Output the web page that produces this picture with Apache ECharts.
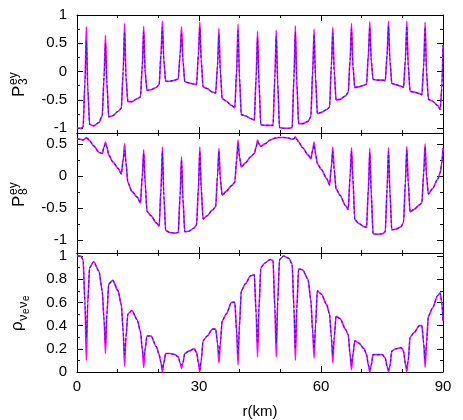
<!DOCTYPE html>
<html>
<head>
<meta charset="utf-8">
<script src="https://cdn.jsdelivr.net/npm/echarts@6/dist/echarts.min.js"></script>
<style>
html,body{margin:0;padding:0;background:#fff;}
#c{width:463px;height:420px;}
</style>
</head>
<body>
<div id="c"></div>
<script>
// r (km) sample positions shared by the three panels
const rKm = [0, 0.9,
 1.5, 1.95, 2.3, 2.65, 3.1, 4.1, 5.4,
 6.2, 6.65, 7.0, 7.35, 7.8, 8.8, 10.1,
 10.9, 11.35, 11.7, 12.05, 12.5, 13.5, 14.8,
 15.6, 16.05, 16.4, 16.75, 17.2, 18.2, 19.5,
 20.2, 20.65, 21.0, 21.35, 21.8, 22.8, 24.1,
 24.9, 25.35, 25.7, 26.05, 26.5, 27.5, 28.8,
 29.4, 29.85, 30.2, 30.55, 31.0, 32.0, 33.3,
 34.1, 34.55, 34.9, 35.25, 35.7, 36.7, 38.0,
 38.8, 39.25, 39.6, 39.95, 40.4, 41.4, 42.7,
 43.6, 44.05, 44.4, 44.75, 45.2, 46.2, 47.5,
 48.2, 48.65, 49.0, 49.35, 49.8, 50.8, 52.1,
 52.9, 53.35, 53.7, 54.05, 54.5, 55.5, 56.8,
 57.5, 57.95, 58.3, 58.65, 59.1, 60.1, 61.4,
 62.1, 62.55, 62.9, 63.25, 63.7, 64.7, 66.0,
 66.7, 67.15, 67.5, 67.85, 68.3, 69.3, 70.6,
 71.2, 71.65, 72.0, 72.35, 72.8, 73.8, 75.1,
 75.8, 76.25, 76.6, 76.95, 77.4, 78.4, 79.7,
 80.3, 80.75, 81.1, 81.45, 81.9, 82.9, 84.2,
 84.8, 85.25, 85.6, 85.95, 86.4, 87.4, 88.7,
 89.3, 89.7, 90.0];

// P3^ey (magenta solid)
const p3Magenta = [-1.0, -1.0,
 -0.98, -0.2, 0.79, -0.3, -0.93, -0.96, -0.9,
 -0.78, -0.1, 0.64, -0.2, -0.8, -0.78, -0.7,
 -0.65, 0.0, 0.85, -0.1, -0.53, -0.53, -0.48,
 -0.45, 0.1, 0.80, 0.0, -0.33, -0.32, -0.28,
 -0.23, 0.3, 0.89, 0.2, -0.17, -0.17, -0.15,
 -0.13, 0.3, 0.79, 0.2, -0.18, -0.2, -0.22,
 -0.23, 0.3, 0.88, 0.2, -0.27, -0.3, -0.36,
 -0.38, 0.1, 0.76, 0.0, -0.48, -0.52, -0.6,
 -0.64, 0.0, 0.84, -0.1, -0.76, -0.78, -0.83,
 -0.86, -0.1, 0.71, -0.2, -0.94, -0.95, -0.95,
 -0.95, -0.1, 0.73, -0.2, -0.99, -1.0, -1.0,
 -0.99, -0.1, 0.81, -0.2, -0.92, -0.92, -0.88,
 -0.8, 0.0, 0.75, -0.1, -0.74, -0.72, -0.67,
 -0.63, 0.1, 0.78, 0.0, -0.5, -0.49, -0.43,
 -0.37, 0.2, 0.85, 0.1, -0.28, -0.27, -0.24,
 -0.22, 0.3, 0.88, 0.2, -0.14, -0.15, -0.15,
 -0.16, 0.3, 0.89, 0.2, -0.21, -0.23, -0.26,
 -0.28, 0.2, 0.89, 0.1, -0.35, -0.36, -0.39,
 -0.41, 0.1, 0.87, 0.0, -0.49, -0.52, -0.6,
 -0.67, -0.3, 0.47];
// P3^ey (blue dashed) values at the 19 spike tops
const p3BluePeaks = [0.55, 0.5, 0.7, 0.7, 0.78, 0.68, 0.78, 0.65, 0.72, 0.6, 0.62, 0.7, 0.65, 0.68, 0.75, 0.78, 0.8, 0.8, 0.78];

// P8^ey (magenta solid)
const p8Magenta = [0.58, 0.57,
 0.56, 0.58, 0.6, 0.58, 0.55, 0.47, 0.37,
 0.35, 0.45, 0.53, 0.45, 0.33, 0.22, 0.12,
 0.03, 0.25, 0.5, 0.2, -0.1, -0.24, -0.33,
 -0.42, 0.0, 0.41, -0.1, -0.55, -0.62, -0.73,
 -0.78, -0.2, 0.45, -0.3, -0.85, -0.88, -0.89,
 -0.88, -0.3, 0.30, -0.35, -0.87, -0.86, -0.81,
 -0.76, -0.2, 0.45, -0.2, -0.67, -0.62, -0.53,
 -0.48, 0.0, 0.43, -0.05, -0.3, -0.24, -0.15,
 -0.1, 0.25, 0.56, 0.3, 0.14, 0.2, 0.3,
 0.35, 0.45, 0.56, 0.5, 0.46, 0.5, 0.56,
 0.58, 0.59, 0.59, 0.6, 0.6, 0.6, 0.59,
 0.57, 0.58, 0.61, 0.57, 0.53, 0.44, 0.33,
 0.27, 0.4, 0.53, 0.35, 0.19, 0.1, -0.04,
 -0.14, 0.15, 0.45, 0.1, -0.2, -0.3, -0.46,
 -0.52, 0.0, 0.44, -0.05, -0.68, -0.74, -0.79,
 -0.8, -0.2, 0.43, -0.25, -0.9, -0.91, -0.9,
 -0.87, -0.2, 0.44, -0.25, -0.84, -0.83, -0.79,
 -0.72, -0.1, 0.46, -0.1, -0.56, -0.52, -0.45,
 -0.42, 0.05, 0.5, 0.0, -0.28, -0.2, -0.05,
 0.05, 0.2, 0.43];
const p8BluePeaks = [0.59, 0.5, 0.4, 0.35, 0.38, 0.25, 0.38, 0.38, 0.5, 0.53, 0.59, 0.6, 0.48, 0.38, 0.38, 0.36, 0.38, 0.4, 0.45];

// rho_{nu_e nu_e} (magenta solid)
const rhoMagenta = [1.0, 1.0,
 0.97, 0.6, 0.1, 0.6, 0.9, 0.95, 0.87,
 0.7, 0.45, 0.16, 0.5, 0.76, 0.79, 0.7,
 0.58, 0.35, 0.05, 0.3, 0.5, 0.53, 0.45,
 0.35, 0.2, 0.04, 0.2, 0.31, 0.31, 0.22,
 0.15, 0.08, 0.0, 0.08, 0.16, 0.16, 0.15,
 0.13, 0.08, 0.03, 0.08, 0.16, 0.18, 0.2,
 0.17, 0.08, 0.0, 0.1, 0.27, 0.31, 0.37,
 0.37, 0.25, 0.08, 0.25, 0.44, 0.5, 0.6,
 0.6, 0.35, 0.06, 0.4, 0.7, 0.76, 0.83,
 0.84, 0.5, 0.13, 0.55, 0.9, 0.94, 0.97,
 0.96, 0.55, 0.13, 0.6, 0.97, 1.0, 0.98,
 0.93, 0.55, 0.1, 0.55, 0.89, 0.88, 0.8,
 0.62, 0.35, 0.12, 0.4, 0.7, 0.67, 0.58,
 0.5, 0.3, 0.08, 0.3, 0.48, 0.46, 0.37,
 0.32, 0.15, 0.02, 0.15, 0.27, 0.25, 0.2,
 0.15, 0.06, 0.0, 0.06, 0.15, 0.15, 0.15,
 0.12, 0.05, 0.0, 0.05, 0.18, 0.2, 0.21,
 0.18, 0.07, 0.0, 0.1, 0.3, 0.34, 0.4,
 0.4, 0.25, 0.04, 0.25, 0.48, 0.55, 0.66,
 0.68, 0.6, 0.44];
const rhoBlueDips = [0.3, 0.25, 0.15, 0.12, 0.03, 0.06, 0.02, 0.15, 0.15, 0.25, 0.25, 0.2, 0.2, 0.15, 0.06, 0.02, 0.02, 0.04, 0.1];

// tick labels
const xTicks = [0, 30, 60, 90];
const p3Ticks = [-1, -0.5, 0, 0.5, 1];
const p3Minor = [-0.75, -0.25, 0.25, 0.75];
const p8Ticks = [-1, -0.5, 0, 0.5];
const p8Minor = [-0.75, -0.25, 0.25];
const rhoTicks = [0, 0.2, 0.4, 0.6, 0.8, 1];
const rhoMinor = [0.1, 0.3, 0.5, 0.7, 0.9];

function pairs(vals) { return rKm.map((r, i) => [r, vals[i]]); }
function withPeaks(vals, peaks) {
  const out = vals.slice();
  peaks.forEach((p, k) => { out[4 + 7 * k] = p; });
  return out;
}

const FONT = 'Liberation Sans, Arial, sans-serif';
const grids = [
  {left: 77, right: 20, top: 15, height: 118},
  {left: 77, right: 20, top: 133, height: 120},
  {left: 77, right: 20, top: 253, height: 119}
];
const yRanges = [[-1.085, 1], [-1.2, 0.67], [0, 1.026]];
const yMajor = [p3Ticks, p8Ticks, rhoTicks];
const yMinor = [p3Minor, p8Minor, rhoMinor];

const axLine = {show: true, onZero: false, lineStyle: {color: '#000', width: 1}};
const xAxes = [], yAxes = [];
for (let g = 0; g < 3; g++) {
  ['bottom', 'top'].forEach(pos => {
    xAxes.push({
      type: 'value', gridIndex: g, position: pos, min: 0, max: 90, interval: 30,
      axisLine: axLine,
      axisTick: {show: true, inside: true, length: 6, lineStyle: {color: '#000'}},
      minorTick: {show: true, splitNumber: 3, length: 3, lineStyle: {color: '#000'}},
      splitLine: {show: false},
      axisLabel: {show: pos === 'bottom' && g === 2, margin: 7, color: '#000', fontSize: 15, fontFamily: FONT,
        customValues: xTicks, formatter: v => String(v)}
    });
  });
  ['left', 'right'].forEach(pos => {
    yAxes.push({
      type: 'value', gridIndex: g, position: pos, min: yRanges[g][0], max: yRanges[g][1],
      axisLine: axLine,
      axisTick: {show: true, inside: true, length: 6, customValues: yMajor[g], lineStyle: {color: '#000'}},
      splitLine: {show: false},
      axisLabel: {show: pos === 'left', margin: 10, color: '#000', fontSize: 15, fontFamily: FONT,
        customValues: yMajor[g], formatter: v => String(v)}
    });
    yAxes.push({
      type: 'value', gridIndex: g, position: pos, min: yRanges[g][0], max: yRanges[g][1],
      axisLine: {show: false, onZero: false},
      axisTick: {show: true, inside: true, length: 3, customValues: yMinor[g], lineStyle: {color: '#000'}},
      splitLine: {show: false},
      axisLabel: {show: false}
    });
  });
}

const magentaStyle = {color: '#ff00ff', width: 1.6};
const blueStyle = {color: '#2020ff', width: 1.1, type: [3, 2]};
const panels = [
  [p3Magenta, withPeaks(p3Magenta, p3BluePeaks)],
  [p8Magenta, withPeaks(p8Magenta, p8BluePeaks)],
  [rhoMagenta, withPeaks(rhoMagenta, rhoBlueDips)]
];
const series = [];
panels.forEach((pv, g) => {
  series.push({type: 'line', xAxisIndex: 2 * g, yAxisIndex: 4 * g, data: pairs(pv[0]),
    showSymbol: false, symbol: 'none', smooth: 0.25, smoothMonotone: 'x',
    lineStyle: magentaStyle, itemStyle: {color: '#ff00ff'}, z: 2});
  series.push({type: 'line', xAxisIndex: 2 * g, yAxisIndex: 4 * g, data: pairs(pv[1]),
    showSymbol: false, symbol: 'none', smooth: 0.25, smoothMonotone: 'x',
    lineStyle: blueStyle, itemStyle: {color: '#2020ff'}, z: 3});
});

function t(x, y, s, size, va) {
  return {type: 'text', x: x, y: y, style: {text: s, fontSize: size, fontFamily: FONT, fill: '#000',
    textAlign: 'left', textVerticalAlign: va || 'middle'}};
}
const graphic = [
  {type: 'group', x: 19, y: 97, rotation: Math.PI / 2, children: [
    t(0, 0, 'P', 17), t(12, 5, '3', 12), t(12, -5, 'ey', 12)]},
  {type: 'group', x: 19, y: 207, rotation: Math.PI / 2, children: [
    t(0, 0, 'P', 17), t(12, 5, '8', 12), t(12, -5, 'ey', 12)]},
  {type: 'group', x: 17, y: 331, rotation: Math.PI / 2, children: [
    t(0, 0, 'ρ', 17), t(10, 6, 'ν', 13), t(17, 9, 'e', 10), t(23, 6, 'ν', 13), t(30, 9, 'e', 10)]},
  {type: 'text', x: 260, y: 412, style: {text: 'r(km)', fontSize: 15, fontFamily: FONT, fill: '#000',
    textAlign: 'center', textVerticalAlign: 'middle'}}
];

const chart = echarts.init(document.getElementById('c'), null, {renderer: 'canvas'});
chart.setOption({
  animation: false,
  backgroundColor: '#fff',
  grid: grids,
  xAxis: xAxes,
  yAxis: yAxes,
  series: series,
  graphic: graphic
});
</script>
</body>
</html>
